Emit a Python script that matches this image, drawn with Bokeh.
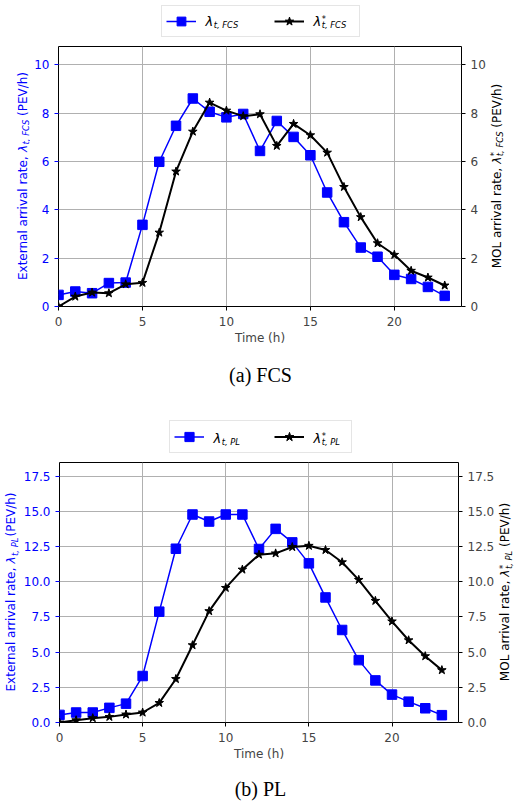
import math
from bokeh.plotting import figure
from bokeh.models import (ColumnDataSource, LinearAxis, Range1d, Legend, LegendItem,
                          Label, FixedTicker, NumeralTickFormatter)
from bokeh.layouts import column, row
from bokeh.embed import file_html
from bokeh.resources import INLINE

# ---------------- data ----------------
hours = list(range(24))
x_ticks = [0, 5, 10, 15, 20]
fcs_ticks = [0, 2, 4, 6, 8, 10]
pl_ticks = [0, 2.5, 5, 7.5, 10, 12.5, 15, 17.5]

fcs_external = [0.48, 0.62, 0.55, 0.97, 0.99, 3.38, 5.99, 7.48, 8.61, 8.06, 7.83, 7.97,
                6.44, 7.68, 7.02, 6.26, 4.72, 3.49, 2.44, 2.06, 1.31, 1.14, 0.81, 0.44]
fcs_mol = [0.0, 0.41, 0.58, 0.55, 0.92, 0.98, 3.06, 5.59, 7.24, 8.44, 8.11, 7.88,
           7.96, 6.65, 7.56, 7.09, 6.37, 4.95, 3.70, 2.62, 2.14, 1.48, 1.20, 0.87]
pl_external = [0.54, 0.71, 0.71, 1.04, 1.34, 3.30, 7.87, 12.34, 14.77, 14.27, 14.77, 14.77,
               12.32, 13.75, 12.79, 11.30, 8.88, 6.57, 4.43, 2.99, 1.98, 1.48, 1.01, 0.52]
pl_mol = [0.0, 0.16, 0.31, 0.40, 0.57, 0.71, 1.39, 3.09, 5.49, 7.91, 9.56, 10.86,
          11.92, 12.01, 12.46, 12.55, 12.25, 11.38, 10.13, 8.64, 7.18, 5.84, 4.71, 3.72]

BLUE = "#0000ff"
FONT = "DejaVu Sans"
FRAME_W = 403
FRAME_H = 261
MID = 0.346   # DejaVu: baseline sits 0.346 em below the middle of the em box

# approximate DejaVu Sans advance widths (em)
W = {' ': 0.318, 'a': 0.613, 'b': 0.635, 'c': 0.550, 'd': 0.635, 'e': 0.615, 'f': 0.352,
     'g': 0.635, 'h': 0.634, 'i': 0.278, 'l': 0.278, 'm': 0.974, 'n': 0.634, 'o': 0.612,
     'p': 0.635, 'r': 0.411, 's': 0.521, 't': 0.392, 'u': 0.634, 'v': 0.592, 'x': 0.592,
     'E': 0.632, 'M': 0.863, 'O': 0.787, 'L': 0.557, 'P': 0.603, 'V': 0.684, 'F': 0.575,
     'C': 0.698, 'S': 0.635, ',': 0.318, '(': 0.390, ')': 0.390, '/': 0.337, 'λ': 0.592,
     '*': 0.500}


def tw(s, size):
    return sum(W.get(c, 0.6) for c in s) * size


def rich_label(p, pieces, x0, y0, angle, color, center=False):
    """pieces: (text, size, style, shift_down_of_baseline, advance); (x0, y0) is on the baseline"""
    ux, uy = math.cos(angle), math.sin(angle)
    dx, dy = math.sin(angle), -math.cos(angle)
    total = sum(pc[4] for pc in pieces)
    pos = -total / 2 if center else 0.0
    for text, size, style, shift, adv in pieces:
        off = shift - MID * size
        x = x0 + ux * pos + dx * off
        y = y0 + uy * pos + dy * off
        p.add_layout(Label(x=x, y=y, x_units="screen", y_units="screen", text=text,
                           angle=angle, text_font_size=f"{size}px", text_font_style=style,
                           text_color=color, text_align="left", text_baseline="middle",
                           text_font=FONT, level="overlay"))
        pos += adv


def axis_pieces(prefix, sub, star, tail_space=True):
    M, S = 12, 8.4
    pcs = [(prefix, M, "normal", 0, tw(prefix + " ", M)),
           ("λ", M, "italic", 0, tw("λ", M) + 0.5)]
    if star:
        pcs.append(("*", S, "normal", -4.0, 0))
    pcs.append((sub, S, "italic", 2.2, tw(sub, S) + (tw(" ", M) if tail_space else 1)))
    pcs.append(("(PEV/h)", M, "normal", 0, tw("(PEV/h)", M)))
    return pcs


def blank(w, h):
    f = figure(width=w, height=h, x_range=Range1d(0, w), y_range=Range1d(-1000 - h, -1000),
               min_border=0, output_backend="svg", toolbar_location=None,
               x_axis_location=None, y_axis_location=None, outline_line_color=None,
               background_fill_color="white", border_fill_color="white")
    f.grid.grid_line_color = None
    return f


def style_series(f, src):
    l1 = f.line("t", "ext", source=src, line_color=BLUE, line_width=1.5)
    s1 = f.scatter("t", "ext", source=src, marker="square", size=9.5, fill_color=BLUE,
                   line_color=BLUE)
    l2 = f.line("t", "mol", source=src, line_color="black", line_width=2)
    s2 = f.scatter("t", "mol", source=src, marker="star", size=9, fill_color="black",
                   line_color="black")
    return l1, s1, l2, s2


def make_panel(ext, mol, yticks, yfmt, sub, leg_h, leg_x, glyph_h, label_width, leg_base,
               wl, bl, br, wr, left_base, right_base, cap_h, cap_base, caption, tail):
    src = ColumnDataSource(dict(t=hours, ext=ext, mol=mol))
    ymax = 1.25 * max(ext)

    # ---- legend strip ----
    lg = blank(514, leg_h)
    l1, s1, l2, s2 = style_series(lg, src)
    legend = Legend(items=[LegendItem(label=" ", renderers=[l1, s1]),
                           LegendItem(label=" ", renderers=[l2, s2])],
                    location=(leg_x, 8), orientation="horizontal", padding=4, spacing=27,
                    glyph_width=30, glyph_height=glyph_h, label_standoff=10,
                    label_width=label_width, label_height=10, margin=0,
                    border_line_color="#cccccc", border_line_width=1,
                    background_fill_alpha=0.0, label_text_font_size="10px")
    lg.add_layout(legend)
    x1 = leg_x + 4 + 30 + 10
    x2 = x1 + label_width + 27 + 30 + 10
    rich_label(lg, [("λ", 13, "italic", 0, tw("λ", 13) + 0.5),
                    (sub, 8.4, "italic", 2.0, 0)], x1, leg_base, 0, "black")
    rich_label(lg, [("λ", 13, "italic", 0, tw("λ", 13) + 0.5),
                    ("*", 8.4, "normal", -4.0, 0),
                    (sub, 8.4, "italic", 2.0, 0)], x2, leg_base, 0, "black")

    # ---- main plot ----
    main_h = 1 + FRAME_H + 40
    p = figure(width=bl + FRAME_W + br, height=main_h, x_range=Range1d(0, 24),
               y_range=Range1d(0, ymax), output_backend="svg", toolbar_location=None,
               title=None, min_border_left=bl, min_border_right=br, min_border_top=1,
               min_border_bottom=40, background_fill_color="white",
               border_fill_color="white")
    p.outline_line_color = "black"
    p.outline_line_width = 1
    p.xaxis.ticker = FixedTicker(ticks=x_ticks)
    p.yaxis.ticker = FixedTicker(ticks=yticks)
    p.yaxis.formatter = NumeralTickFormatter(format=yfmt)
    p.xaxis.axis_label = "Time (h)"
    p.xaxis.axis_label_text_font = FONT
    p.xaxis.axis_label_text_font_size = "12px"
    p.xaxis.axis_label_text_font_style = "normal"
    p.xaxis.axis_label_standoff = 2
    for ax in (p.xaxis, p.yaxis):
        ax.axis_line_color = None
        ax.major_tick_out = 4
        ax.major_tick_in = 0
        ax.minor_tick_out = 0
        ax.minor_tick_in = 0
        ax.major_label_text_font = FONT
        ax.major_label_text_font_size = "12px"
        ax.major_label_standoff = 5
    p.xaxis.major_label_standoff = 6
    p.yaxis.major_label_text_color = BLUE
    p.yaxis.major_tick_line_color = BLUE
    right = LinearAxis(ticker=FixedTicker(ticks=yticks), formatter=NumeralTickFormatter(format=yfmt),
                       axis_line_color=None, major_tick_out=4, major_tick_in=0,
                       minor_tick_out=0, minor_tick_in=0, major_label_text_font=FONT,
                       major_label_text_font_size="12px", major_label_standoff=5)
    p.add_layout(right, "right")
    for g in (p.xgrid, p.ygrid):
        g.grid_line_color = "#b0b0b0"
        g.grid_line_width = 1
    style_series(p, src)

    # ---- axis title strips (their frames line up with the plot frame) ----
    yc = FRAME_H / 2
    lt = blank(wl, main_h)
    rich_label(lt, axis_pieces("External arrival rate,", sub, False, tail),
               left_base, yc, math.pi / 2, BLUE, center=True)
    rt = blank(wr, main_h)
    rich_label(rt, axis_pieces("MOL arrival rate,", sub, True),
               right_base, yc, math.pi / 2, "black", center=True)

    # ---- caption strip ----
    cp = blank(514, cap_h)
    cp.add_layout(Label(x=260, y=cap_base + 0.3375 * 20, x_units="screen",
                        y_units="screen", text=caption, text_font="Liberation Serif",
                        text_font_size="20px", text_align="center",
                        text_baseline="middle", text_color="black", level="overlay"))

    return column(lg, row(lt, p, rt, spacing=0), cp, spacing=0)


panel_a = make_panel(fcs_external, fcs_mol, fcs_ticks, "0", "t, FCS",
                     leg_h=45, leg_x=161, glyph_h=22, label_width=41, leg_base=20,
                     wl=30, bl=28, br=28, wr=25, left_base=26.5, right_base=11.5,
                     cap_h=53, cap_base=19, caption="(a) FCS", tail=True)
panel_b = make_panel(pl_external, pl_mol, pl_ticks, "0.0", "t, PL",
                     leg_h=61, leg_x=169, glyph_h=23, label_width=33, leg_base=18.3,
                     wl=20, bl=38, br=36, wr=17, left_base=15, right_base=12.0,
                     cap_h=39, cap_base=7, caption="(b) PL", tail=False)

layout = column(panel_a, panel_b, spacing=0)
open("out.html", "w").write(file_html(layout, INLINE))
